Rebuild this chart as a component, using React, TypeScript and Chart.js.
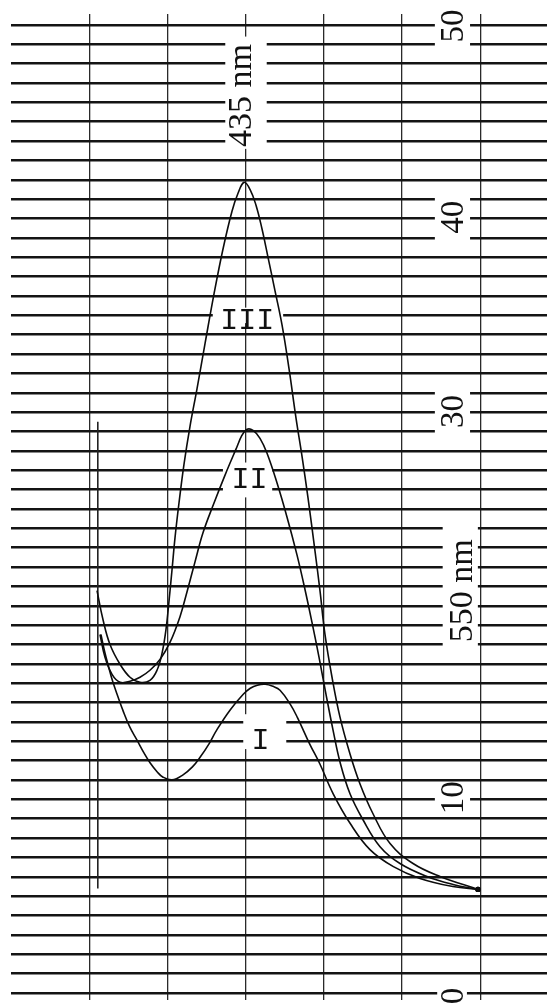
import { useEffect, useRef } from "react";
import { Chart, registerables } from "chart.js";

Chart.register(...registerables);

// ---- data (x in chart-paper divisions, y on the 0–50 scale) ----
const curveIII_x = [1.1, 1.176, 1.266, 1.394, 1.522, 1.65, 1.777, 1.867, 1.931, 1.982, 2.02, 2.059, 2.097, 2.148, 2.212, 2.289, 2.379, 2.481, 2.596, 2.711, 2.826, 2.903, 2.98, 3.056, 3.133, 3.21, 3.286, 3.376, 3.465, 3.555, 3.645, 3.721, 3.798, 3.887, 3.951, 4.015, 4.105, 4.207, 4.335, 4.463, 4.629, 4.847, 5.141, 5.486, 5.972];
const curveIII_y = [20.78, 19.29, 18.0, 16.98, 16.31, 16.05, 16.15, 16.67, 17.54, 18.78, 20.22, 21.86, 23.51, 25.31, 27.31, 29.27, 31.22, 33.54, 36.11, 38.43, 40.38, 41.31, 41.87, 41.51, 40.69, 39.46, 38.01, 36.27, 34.52, 32.25, 29.68, 27.73, 25.57, 22.84, 20.78, 18.52, 16.31, 14.25, 12.35, 10.8, 9.26, 7.72, 6.69, 6.02, 5.35];

const curveII_x = [1.138, 1.202, 1.292, 1.394, 1.522, 1.65, 1.777, 1.905, 2.033, 2.161, 2.251, 2.353, 2.455, 2.596, 2.737, 2.877, 2.954, 3.018, 3.095, 3.184, 3.274, 3.402, 3.529, 3.657, 3.76, 3.849, 3.939, 4.028, 4.118, 4.207, 4.335, 4.501, 4.719, 4.974, 5.32, 5.652, 5.972];
const curveII_y = [18.52, 17.34, 16.46, 16.05, 16.1, 16.31, 16.67, 17.23, 18.11, 19.44, 20.73, 22.27, 23.77, 25.31, 26.75, 28.09, 28.81, 29.12, 29.06, 28.65, 27.88, 26.34, 24.59, 22.63, 20.83, 19.14, 17.34, 15.43, 13.58, 11.93, 10.29, 8.95, 7.56, 6.69, 6.02, 5.61, 5.35];

const curveI_x = [1.15, 1.2, 1.25, 1.3, 1.37, 1.43, 1.52, 1.61, 1.7, 1.78, 1.87, 1.94, 2.06, 2.2, 2.32, 2.42, 2.53, 2.63, 2.8, 2.97, 3.06, 3.15, 3.25, 3.35, 3.44, 3.57, 3.66, 3.82, 3.95, 4.12, 4.34, 4.59, 4.89, 5.23, 5.65, 5.97];
const curveI_y = [18.52, 17.59, 16.82, 16.1, 15.28, 14.61, 13.73, 13.07, 12.4, 11.88, 11.42, 11.16, 11.01, 11.27, 11.68, 12.19, 12.86, 13.58, 14.61, 15.43, 15.74, 15.9, 15.95, 15.84, 15.64, 14.92, 14.25, 12.86, 11.83, 10.29, 8.74, 7.41, 6.53, 5.92, 5.5, 5.35];

const marker_x = [1.11, 1.11];
const marker_y = [29.5, 5.4];

const curveNames = ["I", "II", "III"];
const scaleTickLabels = ["50", "40", "30", "10", "0"];
const wavelengthLabels = ["435 nm", "550 nm"];

// ---- layout of the written labels (data units) ----
const SCALE_LABEL_BASE_X = 5.78;
const scaleLabelCenterY = [49.95, 40.07, 30.04, 10.08, -0.15];
const scaleLabelBoxes: number[][] = [
  [5.42, 5.87, 48.7, 50.5],
  [5.42, 5.87, 38.7, 41.3],
  [5.42, 5.87, 28.7, 31.3],
  [5.42, 5.87, 9.7, 10.3],
  [5.45, 5.83, -0.4, 0.4],
];
const wavelengthPos = [
  { x: 3.069, y: 46.35, box: [2.74, 3.27, 43.6, 49.4] },
  { x: 5.895, y: 20.78, box: [5.52, 5.97, 17.6, 24.4] },
];
const curveNamePos = [
  { x: 3.19, y: 12.6, box: [2.97, 3.52, 12.6, 14.4] },
  { x: 3.05, y: 26.08, box: [2.71, 3.34, 25.6, 27.4] },
  { x: 3.02, y: 34.31, box: [2.58, 3.48, 34.6, 35.4] },
];

const zip = (xs: number[], ys: number[]) => xs.map((x, i) => ({ x, y: ys[i] }));

const SERIF = '"Liberation Serif", "DejaVu Serif", serif';
const MONO = '"Liberation Mono", "DejaVu Sans Mono", monospace';

const labelPlugin = {
  id: "paperLabels",
  beforeDatasetsDraw(chart: any) {
    const { ctx, scales } = chart;
    const sx = scales.x;
    const sy = scales.y;
    const px = (u: number) => sx.getPixelForValue(u);
    const py = (v: number) => sy.getPixelForValue(v);
    const box = (b: number[]) => {
      const x1 = px(b[0]);
      const x2 = px(b[1]);
      const y1 = py(b[3]);
      const y2 = py(b[2]);
      ctx.fillStyle = "#ffffff";
      ctx.fillRect(x1, y1, x2 - x1, y2 - y1);
    };
    const rotText = (t: string, u: number, v: number, font: string) => {
      ctx.save();
      ctx.translate(px(u), py(v));
      ctx.rotate(-Math.PI / 2);
      ctx.font = font;
      ctx.fillStyle = "#111";
      ctx.textAlign = "center";
      ctx.textBaseline = "alphabetic";
      ctx.fillText(t, 0, 0);
      ctx.restore();
    };
    ctx.save();
    scaleTickLabels.forEach((_, i) => box(scaleLabelBoxes[i]));
    wavelengthPos.forEach((p) => box(p.box));
    curveNamePos.forEach((p) => box(p.box));

    scaleTickLabels.forEach((t, i) => {
      rotText(t, SCALE_LABEL_BASE_X, scaleLabelCenterY[i], `33px ${SERIF}`);
    });
    wavelengthLabels.forEach((t, i) => {
      rotText(t, wavelengthPos[i].x, wavelengthPos[i].y, `34px ${SERIF}`);
    });
    curveNames.forEach((t, i) => {
      ctx.font = `30px ${MONO}`;
      ctx.fillStyle = "#111";
      ctx.textAlign = "center";
      ctx.textBaseline = "alphabetic";
      ctx.fillText(t, px(curveNamePos[i].x), py(curveNamePos[i].y));
    });
    ctx.restore();
  },
};

export default function App() {
  const ref = useRef<HTMLCanvasElement | null>(null);

  useEffect(() => {
    if (!ref.current) return;
    const endDot = (n: number) => (c: any) => (c.dataIndex === n - 1 ? 2.6 : 0);
    const line = (label: string, xs: number[], ys: number[], w: number) => ({
      label,
      data: zip(xs, ys),
      showLine: true,
      borderColor: "#0c0c0c",
      backgroundColor: "#0c0c0c",
      borderWidth: w,
      pointRadius: endDot(xs.length),
      pointBackgroundColor: "#0c0c0c",
      pointBorderWidth: 0,
      tension: 0.4,
      fill: false,
    });
    const chart = new Chart(ref.current, {
      type: "scatter",
      data: {
        datasets: [
          line(curveNames[2], curveIII_x, curveIII_y, 1.6),
          line(curveNames[1], curveII_x, curveII_y, 1.6),
          line(curveNames[0], curveI_x, curveI_y, 1.6),
          {
            label: "marker",
            data: zip(marker_x, marker_y),
            showLine: true,
            borderColor: "#222",
            borderWidth: 1.6,
            pointRadius: 0,
            fill: false,
          },
        ],
      },
      options: {
        animation: false,
        responsive: false,
        maintainAspectRatio: false,
        layout: { padding: { left: 11, right: 4, top: 14, bottom: 0 } },
        plugins: {
          legend: { display: false },
          tooltip: { enabled: false },
          title: { display: false },
        },
        scales: {
          x: {
            type: "linear",
            min: 0,
            max: 6.854,
            ticks: { display: false, stepSize: 1, includeBounds: false },
            grid: {
              color: (c: any) =>
                c.tick && c.tick.value > 0 ? "#2a2a2a" : "rgba(0,0,0,0)",
              lineWidth: 1.3,
              drawTicks: false,
            },
            border: { display: false },
          },
          y: {
            type: "linear",
            min: -0.36,
            max: 50.566,
            afterBuildTicks: (s: any) => {
              s.ticks = s.ticks.filter((t: any) => t.value >= 0 && t.value <= 50);
            },
            ticks: { display: false, stepSize: 1, includeBounds: false },
            grid: { color: "#141414", lineWidth: 2.6, drawTicks: false },
            border: { display: false },
          },
        },
      },
      plugins: [labelPlugin],
    });
    return () => chart.destroy();
  }, []);

  return (
    <div
      style={{
        position: "absolute",
        left: 0,
        top: 0,
        width: 551,
        height: 1004,
        background: "#ffffff",
      }}
    >
      <canvas ref={ref} width={551} height={1004} style={{ display: "block" }} />
    </div>
  );
}
